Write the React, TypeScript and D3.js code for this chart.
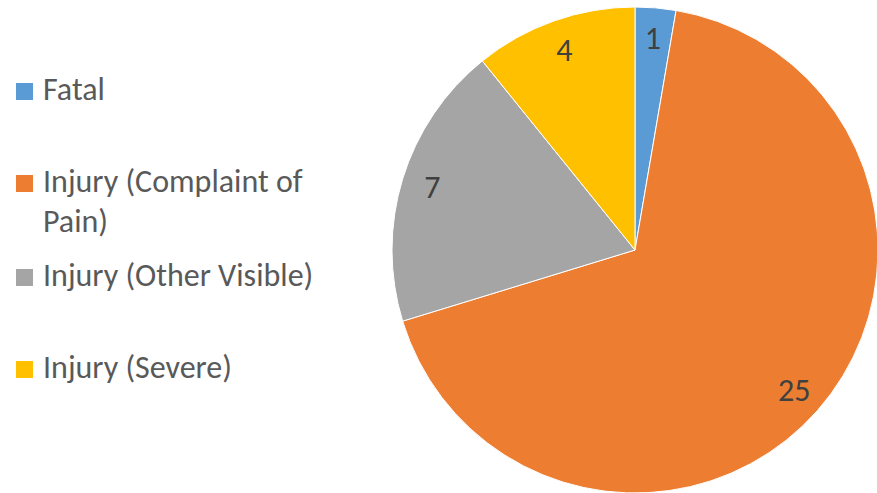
import React from "react";
import * as d3 from "d3";

const categories = ["Fatal", "Injury (Complaint of Pain)", "Injury (Other Visible)", "Injury (Severe)"];
const values = [1, 25, 7, 4];
const colors = ["#5B9BD5", "#ED7D31", "#A5A5A5", "#FFC000"];
const legendLines = [["Fatal"], ["Injury (Complaint of", "Pain)"], ["Injury (Other Visible)"], ["Injury (Severe)"]];

const W = 877;
const H = 493;
const FONT = "Calibri, Carlito, Lato, 'Noto Sans', sans-serif";

export default function App() {
  const cx = 635;
  const cy = 250;
  const r = 243;
  const labelR = 212;
  const pie = d3.pie<number>().sort(null).startAngle(0).endAngle(2 * Math.PI);
  const arcs = pie(values);
  const arc = d3.arc<d3.PieArcDatum<number>>().innerRadius(0).outerRadius(r);
  const labelArc = d3.arc<d3.PieArcDatum<number>>().innerRadius(labelR).outerRadius(labelR);

  const legendY = d3.scaleOrdinal<string, number>().domain(categories).range([100, 192, 286, 378]);

  return (
    <svg width={W} height={H} style={{ position: "absolute", left: 0, top: 0, background: "#fff" }}>
      <g transform={`translate(${cx},${cy})`}>
        {arcs.map((a, i) => (
          <path key={i} d={arc(a) || ""} fill={colors[i]} stroke="#fff" strokeWidth={1} />
        ))}
        {arcs.map((a, i) => {
          const [x, y] = labelArc.centroid(a);
          return (
            <text key={"l" + i} x={x} y={y} dy="0.33em" textAnchor="middle" fontFamily={FONT} fontSize={32} fill="#404040">
              {values[i]}
            </text>
          );
        })}
      </g>
      {categories.map((c, i) => {
        const by = legendY(c);
        return (
          <g key={"lg" + i}>
            <rect x={16} y={by - 17} width={17} height={17} fill={colors[i]} />
            {legendLines[i].map((t, j) => (
              <text key={j} x={43} y={by + j * 40} fontFamily={FONT} fontSize={32} fill="#595959">
                {t}
              </text>
            ))}
          </g>
        );
      })}
    </svg>
  );
}
